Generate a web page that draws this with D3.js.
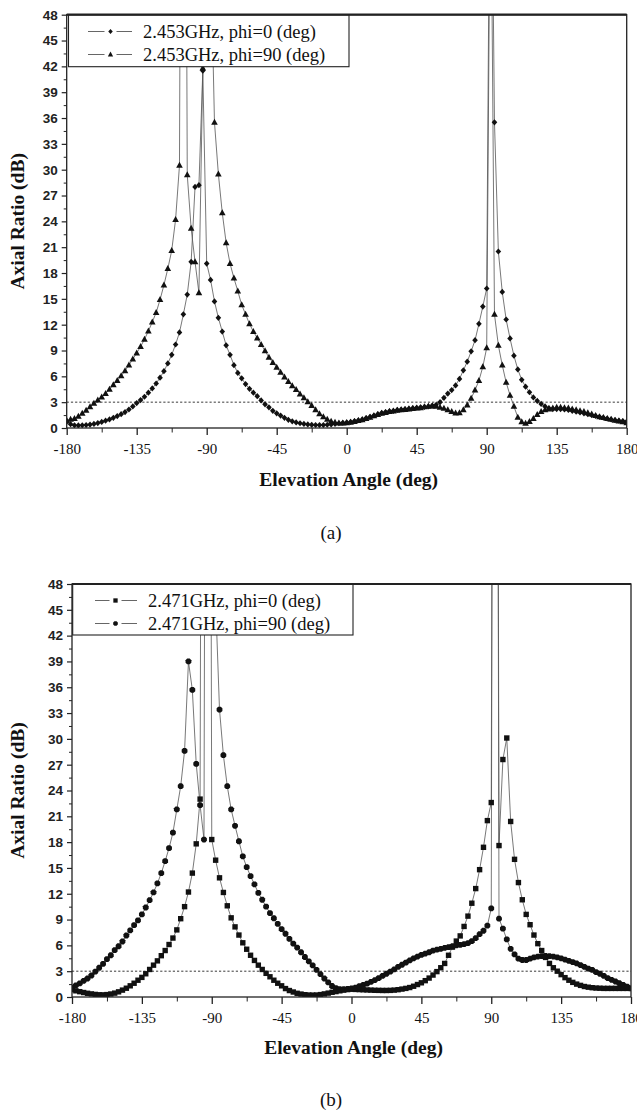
<!DOCTYPE html>
<html><head><meta charset="utf-8">
<script src="https://cdn.jsdelivr.net/npm/d3@7"></script>
<style>body{margin:0;background:#fff} svg{display:block}</style>
</head><body><svg id="c" width="637" height="1113"></svg>
<script>
// Elevation angle samples (deg)
const angles = [
-180,-177.5,-175,-172.5,-170,-167.5,-165,-162.5,-160,-157.5,
-155,-152.5,-150,-147.5,-145,-142.5,-140,-137.5,-135,-132.5,
-130,-127.5,-125,-122.5,-120,-117.5,-115,-112.5,-110,-107.5,
-105,-102.5,-100,-97.5,-95,-92.5,-90,-87.5,-85,-82.5,
-80,-77.5,-75,-72.5,-70,-67.5,-65,-62.5,-60,-57.5,
-55,-52.5,-50,-47.5,-45,-42.5,-40,-37.5,-35,-32.5,
-30,-27.5,-25,-22.5,-20,-17.5,-15,-12.5,-10,-7.5,
-5,-2.5,0,2.5,5,7.5,10,12.5,15,17.5,
20,22.5,25,27.5,30,32.5,35,37.5,40,42.5,
45,47.5,50,52.5,55,57.5,60,62.5,65,67.5,
70,72.5,75,77.5,80,82.5,85,87.5,90,92.5,
95,97.5,100,102.5,105,107.5,110,112.5,115,117.5,
120,122.5,125,127.5,130,132.5,135,137.5,140,142.5,
145,147.5,150,152.5,155,157.5,160,162.5,165,167.5,
170,172.5,175,177.5,180];

// (a) 2.453 GHz, phi = 0 (diamonds)
const ar2453phi0 = [
0.7,0.45,0.32,0.3,0.32,0.35,0.4,0.47,0.57,0.7,
0.85,1.0,1.18,1.38,1.6,1.85,2.15,2.5,2.9,3.24,
3.63,4.1,4.6,5.17,5.85,6.6,7.5,8.5,9.7,11.1,
13.2,15.5,19.3,28.0,28.2,41.5,19.1,17.2,14.7,12.8,
11.2,9.6,8.5,7.3,6.4,5.77,5.1,4.55,4.1,3.7,
3.2,2.75,2.4,2.0,1.7,1.44,1.18,0.95,0.78,0.65,
0.55,0.47,0.41,0.37,0.35,0.34,0.35,0.38,0.42,0.48,
0.55,0.6,0.65,0.7,0.8,0.9,1.0,1.15,1.3,1.45,
1.6,1.75,1.85,1.95,2.0,2.1,2.15,2.2,2.25,2.3,
2.35,2.4,2.45,2.5,2.6,2.7,3.0,3.5,4.0,4.4,
4.95,5.7,6.7,7.7,8.9,10.2,12.1,14.1,16.2,80,
35.5,20.5,15.8,12.6,10.4,8.4,6.8,5.6,4.8,4.15,
3.55,3.15,2.8,2.5,2.3,2.2,2.2,2.2,2.15,2.1,
2.0,1.9,1.8,1.7,1.6,1.5,1.4,1.3,1.2,1.1,
1.0,0.92,0.85,0.8,0.75];

// (a) 2.453 GHz, phi = 90 (triangles)
const ar2453phi90 = [
0.9,1.0,1.1,1.35,1.7,2.05,2.45,2.85,3.25,3.6,
4.0,4.5,5.0,5.5,6.05,6.65,7.3,8.0,8.7,9.45,
10.3,11.25,12.3,13.4,14.9,16.6,18.5,20.6,24.2,30.5,
150,29.4,23.2,19.3,15.7,41.8,52,56,35.5,29.5,
25.0,21.5,19.1,17.4,15.9,14.3,13.2,12.1,11.2,10.45,
9.7,8.95,8.2,7.6,7.05,6.45,5.9,5.4,4.9,4.45,
3.95,3.5,3.05,2.6,2.1,1.65,1.3,1.0,0.77,0.65,
0.58,0.56,0.6,0.65,0.75,0.85,0.95,1.1,1.25,1.4,
1.55,1.7,1.8,1.9,1.95,2.05,2.1,2.15,2.2,2.25,
2.3,2.35,2.45,2.5,2.55,2.5,2.4,2.28,2.12,1.9,
1.72,1.75,2.1,2.65,3.45,4.4,5.5,7.1,9.3,70,
13.2,9.6,7.3,5.3,3.8,2.5,1.25,0.7,0.55,0.75,
1.1,1.55,1.9,2.1,2.2,2.3,2.4,2.4,2.35,2.3,
2.2,2.1,2.0,1.9,1.75,1.6,1.45,1.3,1.2,1.1,
1.0,0.9,0.8,0.7,0.6];

// (b) 2.471 GHz, phi = 0 (squares)
const ar2471phi0 = [
0.85,0.72,0.62,0.52,0.43,0.36,0.3,0.26,0.25,0.28,
0.35,0.45,0.6,0.8,1.02,1.3,1.6,1.95,2.28,2.7,
3.2,3.7,4.2,4.8,5.4,6.1,6.85,7.8,9.1,10.5,
12.2,14.4,17.8,23.0,200,200,18.3,15.9,13.85,12.15,
10.6,9.2,8.15,7.2,6.3,5.55,4.85,4.25,3.7,3.2,
2.75,2.35,1.95,1.6,1.3,0.98,0.75,0.58,0.43,0.34,
0.27,0.23,0.22,0.23,0.28,0.36,0.45,0.55,0.63,0.72,
0.8,0.86,0.9,0.88,0.86,0.84,0.82,0.8,0.78,0.77,
0.76,0.76,0.77,0.8,0.85,0.92,1.0,1.1,1.25,1.45,
1.65,1.9,2.2,2.55,2.95,3.4,3.9,4.85,5.8,6.5,
7.1,8.2,9.4,10.9,12.6,14.8,17.4,20.5,22.6,200,
17.6,27.6,30.1,20.4,16.0,13.3,11.3,9.6,8.4,7.2,
6.2,5.4,4.6,3.9,3.4,3.0,2.6,2.25,1.95,1.7,
1.5,1.35,1.22,1.14,1.08,1.04,1.02,1.0,1.0,1.0,
1.0,1.0,1.0,1.0,1.0];

// (b) 2.471 GHz, phi = 90 (circles)
const ar2471phi90 = [
1.1,1.35,1.58,1.88,2.15,2.5,2.95,3.4,3.85,4.4,
4.85,5.45,5.9,6.45,7.15,7.75,8.35,8.9,9.6,10.4,
11.25,12.15,13.2,14.4,15.8,17.3,19.1,21.8,24.5,28.6,
39.0,35.7,27.1,22.3,18.3,200,60,46,33.4,28.1,
24.5,21.8,19.9,18.1,16.35,15.1,14.05,13.1,12.1,11.3,
10.5,9.75,9.15,8.5,7.9,7.35,6.75,6.2,5.75,5.2,
4.65,4.15,3.68,3.15,2.65,2.15,1.7,1.28,1.04,0.92,
0.9,0.95,1.0,1.1,1.25,1.4,1.55,1.75,1.95,2.2,
2.45,2.7,2.95,3.2,3.5,3.75,4.0,4.25,4.5,4.7,
4.9,5.05,5.2,5.4,5.5,5.6,5.7,5.8,5.9,6.0,
6.05,6.15,6.25,6.5,6.85,7.3,7.7,8.3,10.3,200,
9.1,7.95,6.7,5.6,4.95,4.45,4.3,4.3,4.45,4.6,
4.7,4.75,4.78,4.75,4.7,4.6,4.5,4.35,4.2,4.05,
3.9,3.7,3.5,3.3,3.15,2.9,2.7,2.45,2.2,2.0,
1.8,1.6,1.4,1.2,1.0];

const yTicks = [0,3,6,9,12,15,18,21,24,27,30,33,36,39,42,45,48];
const yMinor = [1.5,4.5,7.5,10.5,13.5,16.5,19.5,22.5,25.5,28.5,31.5,34.5,37.5,40.5,43.5,46.5];
const xTicks = [-180,-135,-90,-45,0,45,90,135,180];
const xMinor = [-157.5,-112.5,-67.5,-22.5,22.5,67.5,112.5,157.5];
const refLevel = 3;
const legendA = ["2.453GHz, phi=0 (deg)", "2.453GHz, phi=90 (deg)"];
const legendB = ["2.471GHz, phi=0 (deg)", "2.471GHz, phi=90 (deg)"];
const xTitle = "Elevation Angle (deg)";
const yTitle = "Axial Ratio (dB)";

const svg = d3.select("#c");
const SERIF = "'Liberation Serif','Times New Roman',serif";
const SANS = "'Liberation Sans',Arial,sans-serif";

const shapes = {
  diamond: "M0,-3.1L2.8,0L0,3.1L-2.8,0Z",
  triangle: "M0,-3.6L3.3,2.4L-3.3,2.4Z",
  square: "M-2.7,-2.7H2.7V2.7H-2.7Z",
  circle: "M-1.3,-2.9H1.3L2.9,-1.3V1.3L1.3,2.9H-1.3L-2.9,1.3V-1.3Z"
};

function panel(cfg, id) {
  const x = d3.scaleLinear().domain([-180, 180]).range([cfg.left, cfg.right]);
  const y = d3.scaleLinear().domain([0, 48]).range([cfg.bottom, cfg.top]);
  const g = svg.append("g");

  g.append("clipPath").attr("id", "clip" + id).append("rect")
    .attr("x", cfg.left).attr("y", cfg.top)
    .attr("width", cfg.right - cfg.left).attr("height", cfg.bottom - cfg.top);

  const plot = g.append("g").attr("clip-path", `url(#clip${id})`);

  // reference 3 dB line
  plot.append("line")
    .attr("x1", cfg.left).attr("x2", cfg.right)
    .attr("y1", y(refLevel)).attr("y2", y(refLevel))
    .attr("stroke", "#222").attr("stroke-width", 0.9)
    .attr("stroke-dasharray", "2.2,2");

  const line = d3.line().x((d, i) => x(angles[i])).y(d => y(d));
  cfg.series.forEach(s => {
    plot.append("path").datum(s.values)
      .attr("d", line).attr("fill", "none")
      .attr("stroke", "#555").attr("stroke-width", 0.8);
  });
  cfg.series.forEach(s => {
    plot.append("g").selectAll("path").data(s.values).join("path")
      .attr("d", shapes[s.shape])
      .attr("transform", (d, i) => `translate(${x(angles[i])},${y(d)})`)
      .attr("fill", "#111");
  });

  // legend
  const L = cfg.legend;
  g.append("rect").attr("x", L.x0).attr("y", L.y0)
    .attr("width", L.x1 - L.x0).attr("height", L.y1 - L.y0)
    .attr("fill", "#fff").attr("stroke", "#222").attr("stroke-width", 1.1);
  L.rows.forEach((txt, i) => {
    const cy = L.rowY[i];
    g.append("line").attr("x1", L.sx0).attr("x2", L.sm - 6).attr("y1", cy).attr("y2", cy)
      .attr("stroke", "#666").attr("stroke-width", 1);
    g.append("line").attr("x1", L.sm + 6).attr("x2", L.sx1).attr("y1", cy).attr("y2", cy)
      .attr("stroke", "#666").attr("stroke-width", 1);
    g.append("path").attr("d", shapes[cfg.series[i].shape])
      .attr("transform", `translate(${L.sm},${cy}) scale(0.8)`).attr("fill", "#111");
    g.append("text").attr("x", L.tx).attr("y", cy + 6)
      .attr("font-family", SERIF).attr("font-size", 18.5).attr("fill", "#111")
      .text(txt);
  });

  // frame
  g.append("rect").attr("x", cfg.left).attr("y", cfg.top)
    .attr("width", cfg.right - cfg.left).attr("height", cfg.bottom - cfg.top)
    .attr("fill", "none").attr("stroke", "#222").attr("stroke-width", 1.3);
  g.append("line").attr("x1", cfg.left).attr("x2", cfg.right)
    .attr("y1", cfg.top).attr("y2", cfg.top)
    .attr("stroke", "#222").attr("stroke-width", 2.2);

  // axes
  const xa = g.append("g").attr("transform", `translate(0,${cfg.bottom})`)
    .call(d3.axisBottom(x).tickValues(xTicks).tickSize(7).tickPadding(8).tickFormat(d => String(d)));
  g.append("g").attr("transform", `translate(0,${cfg.bottom})`)
    .call(d3.axisBottom(x).tickValues(xMinor).tickSize(4.5).tickFormat(""))
    .call(a => a.select(".domain").remove());
  xa.select(".domain").remove();
  xa.selectAll("line").attr("stroke-width", 1.3).attr("stroke", "#222");
  xa.selectAll("text").attr("font-family", SERIF).attr("font-size", 15).attr("fill", "#111");

  const ya = g.append("g").attr("transform", `translate(${cfg.left},0)`)
    .call(d3.axisLeft(y).tickValues(yTicks).tickSize(5).tickPadding(4).tickFormat(d => String(d)));
  g.append("g").attr("transform", `translate(${cfg.left},0)`)
    .call(d3.axisLeft(y).tickValues(yMinor).tickSize(3).tickFormat(""))
    .call(a => a.select(".domain").remove());
  ya.select(".domain").remove();
  ya.selectAll("line").attr("stroke-width", 1.2).attr("stroke", "#222");
  ya.selectAll("text").attr("font-family", SANS).attr("font-size", 13.5)
    .attr("font-weight", "bold").attr("fill", "#222");

  g.selectAll(".tick line").attr("stroke", "#222");

  // titles
  g.append("text").attr("x", (cfg.left + cfg.right) / 2 + 2).attr("y", cfg.xTitleY)
    .attr("text-anchor", "middle").attr("font-family", SERIF).attr("font-weight", "bold")
    .attr("font-size", 19.5).attr("fill", "#111").text(xTitle);
  g.append("text")
    .attr("transform", `translate(${cfg.yTitleX},${(cfg.top + cfg.bottom) / 2}) rotate(-90)`)
    .attr("text-anchor", "middle").attr("font-family", SERIF).attr("font-weight", "bold")
    .attr("font-size", 19.5).attr("fill", "#111").text(yTitle);
  g.append("text").attr("x", 331).attr("y", cfg.capY)
    .attr("text-anchor", "middle").attr("font-family", SERIF)
    .attr("font-size", 19).attr("fill", "#111").text(cfg.caption);
}

panel({
  left: 66.7, right: 626.7, top: 14.7, bottom: 428,
  series: [{values: ar2453phi0, shape: "diamond"}, {values: ar2453phi90, shape: "triangle"}],
  legend: {x0: 68.5, x1: 349, y0: 14.7, y1: 66.7, rows: legendA, rowY: [31.5, 54.5],
           sx0: 88, sx1: 132, sm: 110.5, tx: 143},
  xTitleY: 486, yTitleX: 24, capY: 539, caption: "(a)"
}, "a");

panel({
  left: 72, right: 631, top: 584, bottom: 997,
  series: [{values: ar2471phi0, shape: "square"}, {values: ar2471phi90, shape: "circle"}],
  legend: {x0: 72.7, x1: 353, y0: 584, y1: 635, rows: legendB, rowY: [600.5, 623.5],
           sx0: 95, sx1: 137, sm: 115.5, tx: 148},
  xTitleY: 1054, yTitleX: 24, capY: 1106, caption: "(b)"
}, "b");
</script>
</body></html>
